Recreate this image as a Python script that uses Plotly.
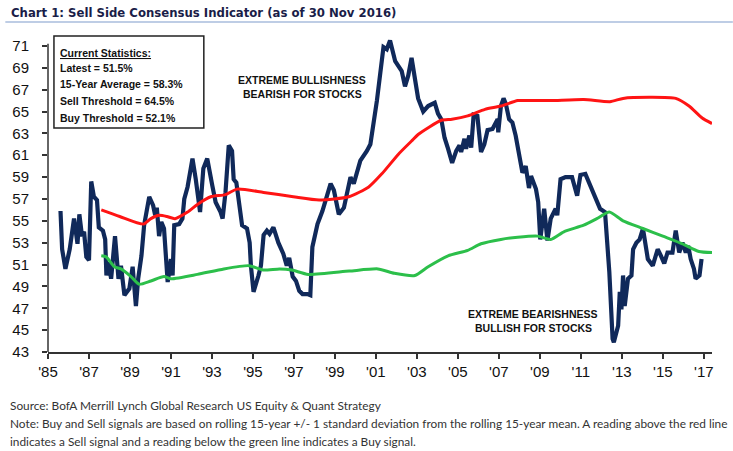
import plotly.graph_objects as go

# ---------------- data ----------------
blue_years = [1985.61, 1985.69, 1985.85, 1986.06, 1986.27, 1986.44, 1986.53, 1986.66, 1986.76, 1986.87,
              1987.00, 1987.11, 1987.24, 1987.39, 1987.48, 1987.68, 1987.79, 1987.85, 1987.95, 1988.08,
              1988.27, 1988.44, 1988.56, 1988.73, 1988.97, 1989.13, 1989.29, 1989.40, 1989.56, 1989.69,
              1989.94, 1990.13, 1990.23, 1990.31, 1990.42, 1990.53, 1990.66, 1990.79, 1990.84, 1991.00,
              1991.08, 1991.16, 1991.40, 1991.56, 1991.65, 1991.81, 1992.05, 1992.21, 1992.42, 1992.58,
              1992.77, 1993.02, 1993.18, 1993.42, 1993.52, 1993.66, 1993.82, 1993.98, 1994.06, 1994.19,
              1994.31, 1994.47, 1994.71, 1994.84, 1994.90, 1995.03, 1995.27, 1995.39, 1995.52, 1995.68,
              1995.81, 1996.00, 1996.24, 1996.48, 1996.65, 1996.77, 1996.94, 1997.10, 1997.26, 1997.42,
              1997.66, 1997.80, 1997.90, 1998.15, 1998.39, 1998.79, 1998.95, 1999.19, 1999.44, 1999.76,
              1999.92, 2000.24, 2000.56, 2000.73, 2001.05, 2001.29, 2001.37, 2001.53, 2001.69, 2001.94,
              2002.10, 2002.26, 2002.42, 2002.58, 2002.74, 2002.87, 2003.06, 2003.31, 2003.55, 2003.87,
              2004.03, 2004.19, 2004.35, 2004.52, 2004.72, 2004.92, 2005.08, 2005.16, 2005.32, 2005.40,
              2005.56, 2005.65, 2005.77, 2005.95, 2006.13, 2006.29, 2006.45, 2006.69, 2006.94, 2006.97,
              2007.10, 2007.23, 2007.34, 2007.50, 2007.66, 2007.82, 2007.98, 2008.15, 2008.31, 2008.47,
              2008.57, 2008.81, 2008.92, 2009.02, 2009.21, 2009.37, 2009.53, 2009.77, 2009.85, 2010.01,
              2010.25, 2010.57, 2010.82, 2010.98, 2011.22, 2011.46, 2011.70, 2011.94, 2012.18, 2012.39,
              2012.55, 2012.61, 2012.82, 2012.90, 2012.98, 2013.06, 2013.14, 2013.30, 2013.47, 2013.55,
              2013.71, 2013.87, 2014.03, 2014.27, 2014.51, 2014.75, 2014.91, 2015.07, 2015.23, 2015.47,
              2015.63, 2015.80, 2015.96, 2016.12, 2016.24, 2016.36, 2016.52, 2016.60, 2016.79, 2016.89]
blue_values = [55.9, 52.4, 50.6, 52.4, 55.2, 52.9, 55.6, 53.6, 54.0, 51.7,
               51.4, 58.6, 57.2, 56.9, 54.4, 54.1, 53.3, 50.0, 51.2, 49.7,
               53.6, 49.7, 50.9, 48.2, 48.8, 50.8, 47.2, 49.7, 51.8, 54.6,
               57.2, 56.4, 55.5, 56.2, 53.6, 54.9, 54.3, 49.7, 49.4, 51.5,
               50.0, 54.6, 54.7, 55.2, 57.0, 58.1, 60.7, 58.8, 55.8, 59.8,
               60.7, 58.2, 56.7, 55.8, 55.2, 57.6, 61.9, 61.4, 58.8, 58.5,
               56.7, 54.6, 54.3, 53.0, 50.9, 48.5, 50.0, 50.9, 53.7, 54.1,
               53.8, 54.4, 53.0, 52.0, 50.9, 51.6, 49.9, 49.5, 48.6, 48.3,
               48.3, 48.2, 52.6, 54.7, 55.9, 58.4, 57.8, 55.6, 56.2, 59.0,
               58.4, 60.5, 61.4, 62.0, 66.0, 69.7, 70.9, 70.7, 71.5, 69.6,
               69.1, 68.7, 67.3, 68.3, 69.9, 68.6, 66.2, 65.0, 65.5, 65.8,
               64.8, 64.3, 62.6, 61.6, 60.3, 61.4, 61.9, 61.3, 62.5, 61.6,
               62.8, 61.7, 64.7, 64.6, 61.3, 62.0, 63.3, 63.4, 64.3, 63.1,
               65.5, 66.2, 65.7, 64.3, 64.0, 62.8, 61.0, 59.4, 60.0, 58.0,
               59.1, 57.9, 56.7, 53.3, 56.1, 53.2, 55.2, 56.1, 55.5, 58.8,
               59.0, 59.0, 57.3, 59.2, 59.3, 58.2, 57.0, 56.1, 55.8, 50.3,
               44.2, 43.9, 45.4, 48.5, 46.9, 50.0, 47.2, 49.7, 50.0, 52.4,
               53.0, 53.3, 54.3, 51.5, 50.9, 52.4, 51.8, 51.1, 52.1, 52.1,
               54.1, 52.1, 53.0, 52.1, 52.7, 51.5, 50.6, 49.7, 50.0, 51.5]

red_years = [1987.60, 1988.50, 1989.66, 1990.02, 1990.42, 1990.80, 1991.20, 1991.81, 1992.29, 1992.94,
             1993.66, 1994.23, 1995.52, 1996.97, 1998.23, 1999.68, 2000.65, 2001.29, 2002.10, 2002.74,
             2003.06, 2004.19, 2004.71, 2005.48, 2006.32, 2007.10, 2007.92, 2008.55, 2009.53, 2011.14,
             2012.42, 2013.06, 2014.35, 2015.63, 2016.28, 2016.92, 2017.40]
red_values = [56.0, 55.4, 54.7, 55.2, 55.5, 55.4, 55.2, 55.8, 56.5, 57.2,
              57.4, 57.9, 57.6, 57.2, 56.9, 57.2, 58.1, 59.3, 61.1, 62.3,
              62.9, 64.2, 64.3, 64.6, 65.2, 65.5, 66.0, 66.0, 66.0, 66.1,
              65.9, 66.2, 66.3, 66.2, 65.5, 64.4, 63.9]

green_years = [1987.60, 1987.84, 1988.24, 1988.56, 1989.05, 1989.45, 1990.02, 1990.66, 1991.00, 1992.29,
               1993.58, 1994.79, 1995.00, 1995.50, 1996.30, 1996.90, 1997.70, 1999.70, 2001.10, 2001.90,
               2002.90, 2003.55, 2004.52, 2005.48, 2006.13, 2007.10, 2007.92, 2008.89, 2009.53, 2010.17,
               2011.14, 2011.78, 2012.39, 2013.06, 2014.03, 2015.00, 2015.96, 2016.76, 2017.40]
green_values = [51.8, 51.7, 50.8, 50.6, 49.9, 49.2, 49.5, 49.9, 49.7, 50.1,
                50.6, 50.9, 50.8, 50.5, 50.6, 50.5, 50.1, 50.4, 50.6, 50.2,
                50.0, 50.8, 51.8, 52.3, 52.9, 53.3, 53.5, 53.6, 53.3, 54.0,
                54.6, 55.2, 55.8, 55.0, 54.3, 53.6, 52.9, 52.2, 52.1]

x_tick_years = [1985, 1987, 1989, 1991, 1993, 1995, 1997, 1999, 2001, 2003, 2005, 2007, 2009,
                2011, 2013, 2015, 2017]
x_tick_labels = ["'85", "'87", "'89", "'91", "'93", "'95", "'97", "'99", "'01", "'03", "'05", "'07",
                 "'09", "'11", "'13", "'15", "'17"]
y_tick_values = [43, 45, 47, 49, 51, 53, 55, 57, 59, 61, 63, 65, 67, 69, 71]

title_text = "Chart 1: Sell Side Consensus Indicator (as of 30 Nov 2016)"
stats_header = "Current Statistics:"
stats_lines = ["Latest = 51.5%", "15-Year Average = 58.3%", "Sell Threshold = 64.5%",
               "Buy Threshold = 52.1%"]
bull_lines = ["EXTREME BULLISHNESS", "BEARISH FOR STOCKS"]
bear_lines = ["EXTREME BEARISHNESS", "BULLISH FOR STOCKS"]
foot_lines = ["Source: BofA Merrill Lynch Global Research US Equity & Quant Strategy",
              "Note: Buy and Sell signals are based on rolling 15-year +/- 1 standard deviation from the rolling 15-year mean. A reading above the red line",
              "indicates a Sell signal and a reading below the green line indicates a Buy signal."]

# ---------------- layout geometry ----------------
W, H = 733, 451
L, R = 43, 712
T, B = 35, 352


def px(x):
    return (x - L) / (R - L)


def py(y):
    return (B - y) / (B - T)


ARIAL = "Liberation Sans, Arial, sans-serif"
COND = "DejaVu Sans Condensed, sans-serif"
FOOT = "Lato, DejaVu Sans Condensed, sans-serif"

fig = go.Figure()
fig.add_trace(go.Scatter(x=blue_years, y=blue_values, mode="lines",
                         line=dict(color="#10295a", width=4.2), hoverinfo="skip"))
fig.add_trace(go.Scatter(x=red_years, y=red_values, mode="lines",
                         line=dict(color="#ff1414", width=3, shape="spline", smoothing=0.6),
                         hoverinfo="skip"))
fig.add_trace(go.Scatter(x=green_years, y=green_values, mode="lines",
                         line=dict(color="#2cbf4a", width=3, shape="spline", smoothing=0.6),
                         hoverinfo="skip"))

shapes = [
    # title underline
    dict(type="line", xref="paper", yref="paper", x0=px(0), x1=px(W), y0=py(22), y1=py(22),
         line=dict(color="#a9bddc", width=1.5)),
    # y axis line
    dict(type="line", xref="paper", yref="y", x0=0, x1=0, y0=43, y1=71.2,
         line=dict(color="#333333", width=1.5)),
    # stats box
    dict(type="rect", xref="paper", yref="paper", x0=px(49), x1=px(200), y0=py(128), y1=py(36),
         line=dict(color="#222222", width=1.5), fillcolor="rgba(255,255,255,0)"),
]

annotations = [
    dict(text="<b>" + title_text + "</b>", xref="paper", yref="paper", x=px(4), y=py(13),
         xanchor="left", yanchor="middle", showarrow=False,
         font=dict(family=COND, size=13, color="#1a1d48")),
    dict(text="<b><u>" + stats_header + "</u></b>", xref="paper", yref="paper", x=px(53), y=py(52.7),
         xanchor="left", yanchor="middle", showarrow=False,
         font=dict(family=ARIAL, size=10.5, color="#111111")),
]
for i, s in enumerate(stats_lines):
    annotations.append(dict(text="<b>" + s + "</b>", xref="paper", yref="paper", x=px(53),
                            y=py(67.5 + i * 16.7), xanchor="left", yanchor="middle", showarrow=False,
                            font=dict(family=ARIAL, size=10.5, color="#111111")))
for i, s in enumerate(bull_lines):
    annotations.append(dict(text="<b>" + s + "</b>", xref="paper", yref="paper", x=px(299),
                            y=py(80 + i * 14), xanchor="center", yanchor="middle", showarrow=False,
                            font=dict(family=ARIAL, size=10.5, color="#111111")))
for i, s in enumerate(bear_lines):
    annotations.append(dict(text="<b>" + s + "</b>", xref="paper", yref="paper", x=px(532),
                            y=py(314 + i * 14), xanchor="center", yanchor="middle", showarrow=False,
                            font=dict(family=ARIAL, size=10.5, color="#111111")))
for i, s in enumerate(foot_lines):
    annotations.append(dict(text=s, xref="paper", yref="paper", x=px(3),
                            y=py(405 + i * 18), xanchor="left", yanchor="middle", showarrow=False,
                            font=dict(family=FOOT, size=11.85, color="#333333")))

fig.update_layout(
    width=W, height=H, autosize=False,
    margin=dict(l=L, r=W - R, t=T, b=H - B, pad=0),
    paper_bgcolor="white", plot_bgcolor="white",
    showlegend=False,
    shapes=shapes, annotations=annotations,
    xaxis=dict(range=[1985, 2017.4], tickmode="array", tickvals=x_tick_years, ticktext=x_tick_labels,
               ticks="outside", ticklen=5, tickwidth=1.5, tickcolor="#333333",
               showline=True, linecolor="#333333", linewidth=1.5, showgrid=False, zeroline=False,
               tickfont=dict(family=ARIAL, size=15, color="#111111"), ticklabelstandoff=0),
    yaxis=dict(range=[43, 72], tickmode="array", tickvals=y_tick_values,
               ticks="outside", ticklen=5, tickwidth=1.5, tickcolor="#333333",
               showline=False, showgrid=False, zeroline=False,
               tickfont=dict(family=ARIAL, size=15, color="#111111"), ticklabelstandoff=10),
)

fig.write_html("out.html")
